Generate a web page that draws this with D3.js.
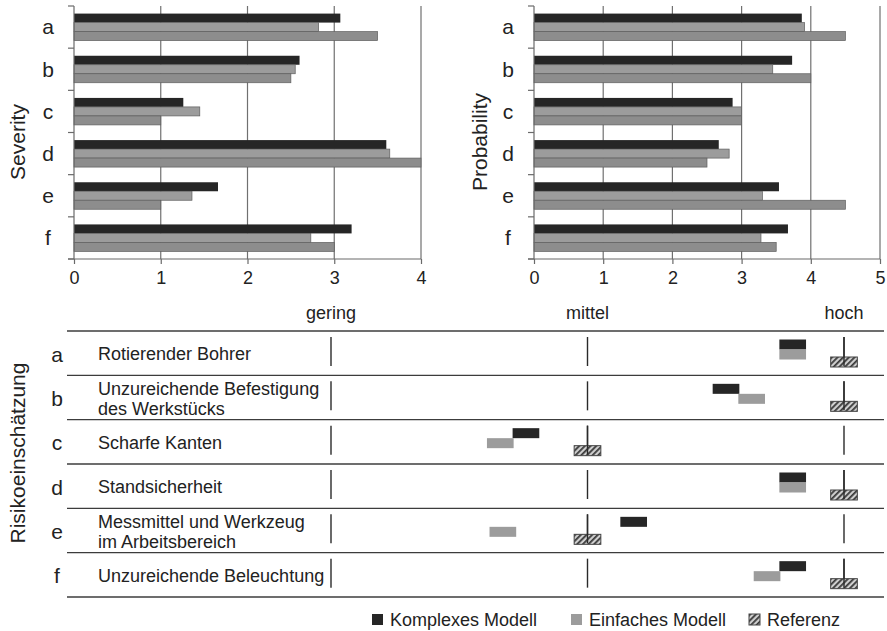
<!DOCTYPE html>
<html>
<head>
<meta charset="utf-8">
<script src="https://cdn.jsdelivr.net/npm/d3@7"></script>
<style>
  body { margin: 0; background: #fff; }
  svg { display: block; }
  text { font-family: "Liberation Sans", Arial, sans-serif; fill: #222; }
</style>
</head>
<body>
<svg id="chart" width="887" height="631"></svg>
<script>
// Hazards a–f
const categories = ["a", "b", "c", "d", "e", "f"];
const seriesNames = ["Komplexes Modell", "Einfaches Modell", "Referenz"];

// Severity per hazard
const severityKomplex  = [3.07, 2.60, 1.26, 3.60, 1.66, 3.20];
const severityEinfach  = [2.82, 2.55, 1.45, 3.64, 1.36, 2.73];
const severityReferenz = [3.5, 2.5, 1.0, 4.0, 1.0, 3.0];

// Probability per hazard
const probabilityKomplex  = [3.87, 3.73, 2.87, 2.67, 3.54, 3.67];
const probabilityEinfach  = [3.91, 3.45, 3.00, 2.82, 3.30, 3.28];
const probabilityReferenz = [4.5, 4.0, 3.0, 2.5, 4.5, 3.5];

const severityTicks = [0, 1, 2, 3, 4];
const probabilityTicks = [0, 1, 2, 3, 4, 5];

// Risk assessment: 1 = gering, 2 = mittel, 3 = hoch
const riskLevels = ["gering", "mittel", "hoch"];
const riskLevelValues = [1, 2, 3];
const hazardNames = [
  ["Rotierender Bohrer"],
  ["Unzureichende Befestigung", "des Werkstücks"],
  ["Scharfe Kanten"],
  ["Standsicherheit"],
  ["Messmittel und Werkzeug", "im Arbeitsbereich"],
  ["Unzureichende Beleuchtung"]
];
const riskKomplex  = [2.80, 2.54, 1.76, 2.80, 2.18, 2.80];
const riskEinfach  = [2.80, 2.64, 1.66, 2.80, 1.67, 2.70];
const riskReferenz = [3, 3, 2, 3, 2, 3];

const colKomplex = "#262626";
const colEinfach = "#9c9c9c";
const colReferenz = "#8d8d8d";

const svg = d3.select("#chart");

// Hatch pattern for the reference marks
const defs = svg.append("defs");
const pat = defs.append("pattern")
  .attr("id", "hatch")
  .attr("patternUnits", "userSpaceOnUse")
  .attr("width", 4).attr("height", 4)
  .attr("patternTransform", "rotate(45)");
pat.append("rect").attr("width", 4).attr("height", 4).attr("fill", "#cfcfcf");
pat.append("rect").attr("width", 1.8).attr("height", 4).attr("fill", "#3a3a3a");

// ---------- Top: grouped horizontal bar charts ----------
function barPanel(opts) {
  const g = svg.append("g");
  const x = d3.scaleLinear().domain([0, d3.max(opts.ticks)]).range([opts.x0, opts.x1]);
  const y0 = d3.scaleBand().domain(categories).range([6, 259])
    .paddingInner(0.36).paddingOuter(0.18);
  const y1 = d3.scaleBand().domain(seriesNames).range([0, y0.bandwidth()]);

  // vertical gridlines
  g.selectAll("line.grid").data(opts.ticks.filter(t => t > 0)).join("line")
    .attr("x1", d => x(d)).attr("x2", d => x(d))
    .attr("y1", 6).attr("y2", 259)
    .attr("stroke", "#707070").attr("stroke-width", 1.2);

  // bars
  const series = [opts.komplex, opts.einfach, opts.referenz];
  const fills = [colKomplex, colEinfach, colReferenz];
  categories.forEach((c, i) => {
    series.forEach((vals, s) => {
      g.append("rect")
        .attr("x", x(0))
        .attr("y", y0(c) + y1(seriesNames[s]))
        .attr("width", x(vals[i]) - x(0))
        .attr("height", y1.bandwidth())
        .attr("fill", fills[s])
        .attr("stroke", s === 0 ? "none" : "#5e5e5e")
        .attr("stroke-width", 0.7);
    });
  });

  // left axis: line with ticks at category boundaries
  const bounds = categories.map(c => y0(c) - y0.step() * y0.paddingInner() / 2);
  bounds.push(259);
  g.append("line").attr("x1", x(0)).attr("x2", x(0)).attr("y1", 6).attr("y2", 259)
    .attr("stroke", "#6a6a6a").attr("stroke-width", 1.2);
  g.selectAll("line.ytick").data(bounds).join("line")
    .attr("x1", x(0) - 6).attr("x2", x(0)).attr("y1", d => d).attr("y2", d => d)
    .attr("stroke", "#6a6a6a").attr("stroke-width", 1.2);

  // category letters
  g.selectAll("text.cat").data(categories).join("text")
    .attr("x", opts.labelX).attr("y", d => y0(d) + y0.bandwidth() / 2)
    .attr("dy", "0.35em").attr("text-anchor", "middle")
    .style("font-size", "21px").text(d => d);

  // bottom axis
  const ax = g.append("g").attr("transform", "translate(0,259)")
    .call(d3.axisBottom(x).tickValues(opts.ticks).tickFormat(d3.format("d"))
      .tickSizeInner(5).tickSizeOuter(0).tickPadding(7));
  ax.select(".domain").attr("stroke", "#6a6a6a").attr("stroke-width", 1.2)
    .attr("d", `M${x(0) - 6},0H${x(d3.max(opts.ticks))}`);
  ax.selectAll(".tick line").attr("stroke", "#6a6a6a").attr("stroke-width", 1.2);
  ax.selectAll(".tick text").style("font-size", "18px").attr("fill", "#222")
    .style("font-family", "'Liberation Sans', Arial, sans-serif");

  // axis title
  g.append("text")
    .attr("transform", `translate(${opts.titleX},142) rotate(-90)`)
    .attr("dy", "0.35em").attr("text-anchor", "middle")
    .style("font-size", "21px").text(opts.title);
}

barPanel({
  x0: 74, x1: 421, ticks: severityTicks,
  komplex: severityKomplex, einfach: severityEinfach, referenz: severityReferenz,
  title: "Severity", titleX: 18, labelX: 48
});
barPanel({
  x0: 534, x1: 880, ticks: probabilityTicks,
  komplex: probabilityKomplex, einfach: probabilityEinfach, referenz: probabilityReferenz,
  title: "Probability", titleX: 480, labelX: 508
});

// ---------- Bottom: risk assessment table ----------
const rx = d3.scaleLinear().domain([1, 3]).range([331, 844]);
const rowY = d3.scaleBand().domain(categories).range([331, 597]);
const markW = rx(1.104) - rx(1);
const bottom = svg.append("g");

// level headers
bottom.selectAll("text.level").data(riskLevels).join("text")
  .attr("x", (d, i) => rx(riskLevelValues[i]))
  .attr("y", 319).attr("text-anchor", "middle")
  .style("font-size", "18px").text(d => d);

// horizontal row lines
const rowLines = categories.map(c => rowY(c)).concat([597]);
bottom.selectAll("line.row").data(rowLines).join("line")
  .attr("x1", 67).attr("x2", 884).attr("y1", d => d).attr("y2", d => d)
  .attr("stroke", "#3c3c3c").attr("stroke-width", 1.4);

categories.forEach((c, i) => {
  const T = rowY(c);
  const H = rowY.bandwidth();
  // level markers
  riskLevelValues.forEach(v => {
    bottom.append("line")
      .attr("x1", rx(v)).attr("x2", rx(v))
      .attr("y1", T + 6).attr("y2", T + 35)
      .attr("stroke", "#2a2a2a").attr("stroke-width", 1.4);
  });
  // letter
  bottom.append("text").attr("x", 57).attr("y", T + H / 2 + 1)
    .attr("dy", "0.35em").attr("text-anchor", "middle")
    .style("font-size", "21px").text(c);
  // hazard description
  const lines = hazardNames[i];
  const lh = 20.5;
  lines.forEach((ln, k) => {
    bottom.append("text")
      .attr("x", 98)
      .attr("y", T + H / 2 + 1 + (k - (lines.length - 1) / 2) * lh)
      .attr("dy", "0.35em")
      .style("font-size", "18px").text(ln);
  });
  // model marks
  bottom.append("rect")
    .attr("x", rx(riskKomplex[i]) - markW / 2).attr("y", T + 8.5)
    .attr("width", markW).attr("height", 10).attr("fill", colKomplex);
  bottom.append("rect")
    .attr("x", rx(riskEinfach[i]) - markW / 2).attr("y", T + 18.5)
    .attr("width", markW).attr("height", 10).attr("fill", colEinfach);
  bottom.append("rect")
    .attr("x", rx(riskReferenz[i]) - markW / 2).attr("y", T + 26)
    .attr("width", markW).attr("height", 10)
    .attr("fill", "url(#hatch)").attr("stroke", "#444").attr("stroke-width", 1);
  // marker line stays visible across the reference mark
  bottom.append("line")
    .attr("x1", rx(riskReferenz[i])).attr("x2", rx(riskReferenz[i]))
    .attr("y1", T + 6).attr("y2", T + 35)
    .attr("stroke", "#2a2a2a").attr("stroke-width", 1.4);
});

bottom.append("text")
  .attr("transform", "translate(18,453) rotate(-90)")
  .attr("dy", "0.35em").attr("text-anchor", "middle")
  .style("font-size", "21px").text("Risikoeinschätzung");

// ---------- Legend ----------
const legendItems = [
  { name: seriesNames[0], fill: colKomplex, x: 372 },
  { name: seriesNames[1], fill: colEinfach, x: 571 },
  { name: seriesNames[2], fill: "url(#hatch)", x: 749 }
];
const legend = svg.append("g");
legendItems.forEach(it => {
  legend.append("rect").attr("x", it.x).attr("y", 614).attr("width", 11).attr("height", 11)
    .attr("fill", it.fill)
    .attr("stroke", it.fill.startsWith("url") ? "#444" : "none").attr("stroke-width", 1);
  legend.append("text").attr("x", it.x + 18).attr("y", 620).attr("dy", "0.35em")
    .style("font-size", "18px").text(it.name);
});
</script>
</body>
</html>
